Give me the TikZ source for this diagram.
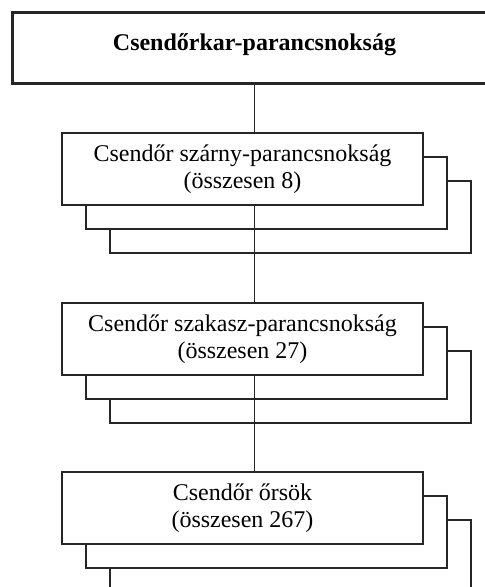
\documentclass[tikz,border=0pt]{standalone}
\usepackage{fontspec}
\setmainfont{Liberation Serif}
\tikzset{
  vonal/.style={draw=black!85, line width=1.3pt},
  parancs/.style={vonal, line width=3pt, fill=white, inner sep=0pt,
    minimum width=485pt, text height=38pt, text depth=33pt},
  egyseg/.style={vonal, fill=white, align=center, inner sep=0pt,
    minimum width=361pt, minimum height=72pt,
    font=\fontsize{24}{27}\selectfont,
    execute at begin node={\rule{0pt}{28pt}}},
  hatso/.style={vonal, fill=white, minimum width=361pt, minimum height=72pt}
}
\begin{document}
\begin{tikzpicture}[x=1pt,y=-1pt]
\useasboundingbox (0,0) rectangle (485,587);

\node[parancs,font=\fontsize{24}{27}\selectfont\bfseries] (kar) at (254.5,47.5)
	{Csendőrkar-parancsnokság};

% szárnyak
\node[hatso] (szarny3) at (290.5,217) {};
\node[hatso] (szarny2) at (266.5,193) {};
\node[egyseg] (szarny) at (242.5,169)
	{Csendőr szárny-parancsnokság\\(összesen 8)};

% szakaszok
\node[hatso] (szakasz3) at (290.5,387) {};
\node[hatso] (szakasz2) at (266.5,363) {};
\node[egyseg] (szakasz) at (242.5,339)
	{Csendőr szakasz-parancsnokság\\(összesen 27)};

% örsök
\node[hatso] (ors3) at (290.5,556) {};
\node[hatso] (ors2) at (266.5,532) {};
\node[egyseg] (ors) at (242.5,508)
	{Csendőr őrsök\\(összesen 267)};

\path[vonal]
(kar.south) edge (kar.south |- szarny.north)
(kar.south |- szarny.south) edge (kar.south |- szakasz.north)
(kar.south |- szakasz.south) edge (kar.south |- ors.north);
\end{tikzpicture}
\end{document}
